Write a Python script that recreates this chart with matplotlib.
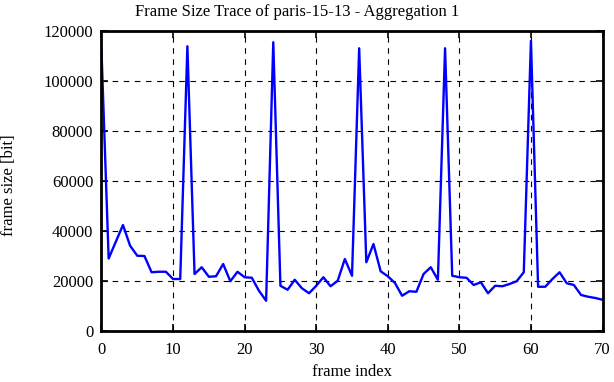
import numpy as np
import matplotlib.pyplot as plt

# frame sizes (bit)
frames = np.arange(0, 71)
sizes = [112000, 29000, 35700, 42400, 34100, 30100, 30000, 23500, 23700, 23700,
         20800, 20800, 113900, 22800, 25500, 21700, 21900, 26800, 19900, 23700,
         21500, 21300, 16100, 12100, 115500, 18100, 16500, 20500, 17100, 15100,
         18100, 21500, 17900, 20100, 28800, 22100, 113100, 27500, 34800, 23900,
         21900, 19200, 14100, 15900, 15700, 22800, 25500, 20500, 113100, 22100,
         21500, 21300, 18400, 19500, 15100, 18100, 17900, 18800, 19900, 23500,
         116100, 17700, 17700, 20800, 23500, 19100, 18400, 14400, 13700, 13200,
         12500]

xticks = [0, 10, 20, 30, 40, 50, 60, 70]
yticks = [0, 20000, 40000, 60000, 80000, 100000, 120000]

plt.rcParams['font.family'] = ['Liberation Serif', 'DejaVu Serif']
plt.rcParams['font.size'] = 12

fig = plt.figure(figsize=(6.14, 3.82), dpi=100)
ax = fig.add_axes([0.1653, 0.1335, 0.816, 0.7853])

ax.plot(frames, sizes, color='#0000ff', linewidth=1.7)

ax.set_xlim(0, 70)
ax.set_ylim(0, 120000)
ax.set_xticks(xticks)
ax.set_yticks(yticks)
ax.grid(True, color='black', linestyle=(0, (5, 5)), linewidth=0.8)
ax.tick_params(direction='in', top=True, right=True, length=5, width=1.2, labelsize=12)
ax.tick_params(axis='x', pad=8)
ax.tick_params(axis='y', pad=6)
for s in ax.spines.values():
    s.set_linewidth(2)

# title and axis labels placed like the gnuplot original
fig.text(0.4845, 1 - 16 / 382, "Frame Size Trace of paris-15-13 - Aggregation 1",
         ha='center', va='baseline', fontsize=12)
fig.text(0.5735, 1 - 372 / 382, "frame index", ha='center', va='center', fontsize=12)
fig.text(9 / 614, 1 - 185 / 382, "frame size [bit]", ha='center', va='center',
         rotation=90, fontsize=12)

fig.savefig("out.png", dpi=100)
